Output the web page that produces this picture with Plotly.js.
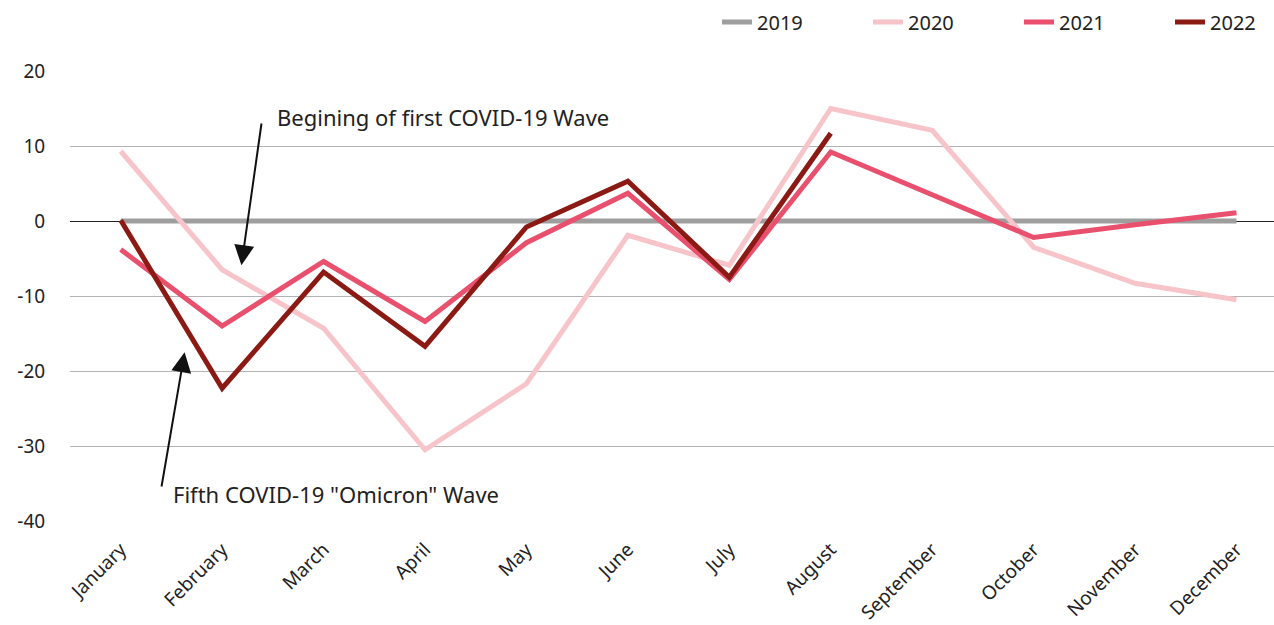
<!DOCTYPE html>
<html>
<head>
<meta charset="utf-8">
<script src="https://cdn.plot.ly/plotly-3.0.1.min.js"></script>
<style>html,body{margin:0;padding:0;background:#fff;}#chart{width:1274px;height:625px;}</style>
</head>
<body>
<div id="chart"></div>
<script>
const months = ["January","February","March","April","May","June","July","August","September","October","November","December"];
const y2019 = [0,0,0,0,0,0,0,0,0,0,0,0];
const y2020 = [9.3,-6.5,-14.3,-30.5,-21.7,-1.9,-5.9,15.0,12.1,-3.5,-8.3,-10.5];
const y2021 = [-3.8,-14.0,-5.4,-13.4,-2.9,3.7,-7.8,9.2,3.5,-2.2,-0.5,1.1];
const y2022 = [0.1,-22.3,-6.8,-16.7,-0.8,5.3,-7.5,11.7];
const yTickVals = [-40,-30,-20,-10,0,10,20];
const yTickText = ["-40","-30","-20","-10","0","10","20"];
const seriesNames = ["2019","2020","2021","2022"];
const seriesColors = ["#9e9e9e","#f7c4ca","#e8506e","#8b1a14"];
const seriesData = [y2019,y2020,y2021,y2022];

const traces = seriesData.map((d,i)=>({
  x: months.slice(0,d.length),
  y: d,
  name: seriesNames[i],
  type: 'scatter',
  mode: 'lines',
  line: {color: seriesColors[i], width: 5},
}));

const fam = '"Noto Sans", "Open Sans", sans-serif';
const font = {family: fam, color: '#222'};

const layout = {
  width: 1274, height: 625,
  margin: {l: 70, r: 0, t: 71, b: 104},
  paper_bgcolor: '#fff', plot_bgcolor: '#fff',
  font: font,
  showlegend: true,
  legend: {orientation: 'h', xref: 'container', yref: 'container', x: 0.5628, xanchor: 'left',
           y: 1 - 22/625, yanchor: 'middle',
           font: {size: 20, family: fam, color: '#222'}, entrywidth: 106, traceorder: 'normal'},
  xaxis: {
    type: 'category', range: [-0.5, 11.37],
    showgrid: false, zeroline: false, showline: false,
    tickangle: -45, tickfont: {size: 19, family: fam, color: '#222'},
    ticks: 'outside', ticklen: 9, tickcolor: 'rgba(0,0,0,0)', fixedrange: true
  },
  yaxis: {
    range: [-40, 20], tickmode: 'array', tickvals: yTickVals, ticktext: yTickText,
    showgrid: true, gridcolor: '#b3b3b3', gridwidth: 1,
    zeroline: true, zerolinecolor: '#222', zerolinewidth: 1,
    showline: false,
    ticks: 'outside', ticklen: 20, tickcolor: 'rgba(0,0,0,0)',
    tickfont: {size: 19, family: fam, color: '#222'}
  },
  annotations: [
    {x: 1.52, y: 13.9, xref: 'x', yref: 'y', text: 'Begining of first COVID-19 Wave',
     showarrow: false, xanchor: 'left', yanchor: 'middle', font: {size: 22, family: fam, color: '#222'}},
    {x: 0.50, y: -36.4, xref: 'x', yref: 'y', text: 'Fifth COVID-19 "Omicron" Wave',
     showarrow: false, xanchor: 'left', yanchor: 'middle', font: {size: 22, family: fam, color: '#222'}},
    {x: 1.19, y: -5.9, xref: 'x', yref: 'y', ax: 1.39, ay: 13.2, axref: 'x', ayref: 'y',
     text: '', showarrow: true, arrowhead: 2, arrowsize: 2, arrowwidth: 2, arrowcolor: '#111'},
    {x: 0.63, y: -17.5, xref: 'x', yref: 'y', ax: 0.40, ay: -35.6, axref: 'x', ayref: 'y',
     text: '', showarrow: true, arrowhead: 2, arrowsize: 2, arrowwidth: 2, arrowcolor: '#111'}
  ]
};

Plotly.newPlot('chart', traces, layout, {displayModeBar: false, staticPlot: true});
</script>
</body>
</html>
